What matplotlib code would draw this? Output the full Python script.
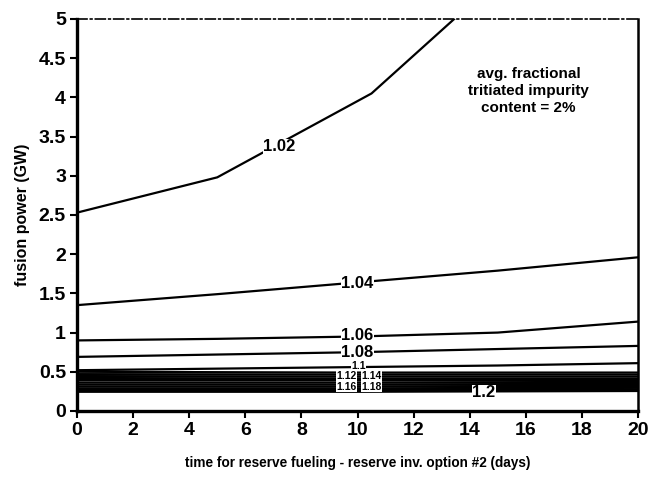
import matplotlib
matplotlib.use("Agg")
import matplotlib.pyplot as plt

plt.rcParams['font.family'] = ['Liberation Sans', 'DejaVu Sans']

# Contour lines of constant breeding ratio: fusion power vs. reserve fueling time
t_102 = [0, 5, 10.5, 15]
p_102 = [2.53, 2.98, 4.05, 5.5]

t_std = [0, 5, 10, 15, 20]
p_104 = [1.35, 1.49, 1.64, 1.79, 1.96]
p_106 = [0.90, 0.92, 0.95, 1.00, 1.14]
p_108 = [0.69, 0.72, 0.75, 0.79, 0.83]
p_110 = [0.52, 0.54, 0.56, 0.58, 0.61]

# Densely packed contours at low power
t_dense = [0, 10, 20]
dense_levels = [1.12, 1.13, 1.14, 1.15, 1.16, 1.17, 1.18, 1.19, 1.20, 1.22, 1.25, 1.30]
dense_power = [
    [0.50, 0.49, 0.49],
    [0.47, 0.465, 0.465],
    [0.445, 0.44, 0.44],
    [0.42, 0.415, 0.415],
    [0.39, 0.39, 0.39],
    [0.365, 0.365, 0.37],
    [0.34, 0.34, 0.345],
    [0.315, 0.315, 0.32],
    [0.29, 0.29, 0.295],
    [0.27, 0.27, 0.275],
    [0.255, 0.255, 0.26],
    [0.245, 0.245, 0.255],
]

# Inline contour labels: (text, x, y, fontsize)
contour_labels = [
    ("1.02", 7.2, 3.37, 12),
    ("1.04", 10.0, 1.63, 12),
    ("1.06", 10.0, 0.96, 12),
    ("1.08", 10.0, 0.745, 12),
    ("1.1", 10.05, 0.572, 7.5),
    ("1.12", 9.6, 0.443, 7.5),
    ("1.14", 10.5, 0.443, 7.5),
    ("1.16", 9.6, 0.31, 7.5),
    ("1.18", 10.5, 0.31, 7.5),
    ("1.2", 14.5, 0.235, 12),
]

xticks = [0, 2, 4, 6, 8, 10, 12, 14, 16, 18, 20]
yticks = [0, 0.5, 1, 1.5, 2, 2.5, 3, 3.5, 4, 4.5, 5]
ytick_labels = ["0", "0.5", "1", "1.5", "2", "2.5", "3", "3.5", "4", "4.5", "5"]

fig = plt.figure(figsize=(6.5, 4.79), dpi=100)
ax = fig.add_axes([0.1185, 0.142, 0.863, 0.8184])

lw = 1.6
ax.plot(t_102, p_102, color="black", lw=lw, solid_capstyle="butt")
for p in (p_104, p_106, p_108, p_110):
    ax.plot(t_std, p, color="black", lw=lw)
for lev, p in zip(dense_levels, dense_power):
    ax.plot(t_dense, p, color="black", lw=lw)

for txt, x, y, fs in contour_labels:
    ax.text(x, y, txt, ha="center", va="center", fontsize=fs,
            fontweight="bold", color="black", zorder=5,
            bbox=dict(facecolor="white", edgecolor="none", pad=0.2))

ax.text(16.1, 4.08, "avg. fractional\ntritiated impurity\ncontent = 2%",
        ha="center", va="center", fontsize=11, fontweight="bold",
        linespacing=1.3)

ax.set_xlim(0, 20)
ax.set_ylim(0, 5)
ax.set_xticks(xticks)
ax.set_yticks(yticks)
ax.set_yticklabels(ytick_labels)
for lab in ax.get_xticklabels() + ax.get_yticklabels():
    lab.set_fontweight("bold")
    lab.set_fontsize(14)
ax.tick_params(axis="both", direction="out", length=5, width=1.5, pad=3)

ax.spines["left"].set_linewidth(2.4)
ax.spines["bottom"].set_linewidth(2.4)
ax.spines["right"].set_linewidth(1.8)
ax.spines["top"].set_linewidth(1.2)
ax.spines["top"].set_linestyle((0, (6, 2, 1, 2)))

ax.set_xlabel("time for reserve fueling - reserve inv. option #2 (days)",
              fontsize=9.8, fontweight="bold", labelpad=12)
ax.set_ylabel("fusion power (GW)", fontsize=11.5, fontweight="bold", labelpad=6)

fig.savefig("out.png", dpi=100)
